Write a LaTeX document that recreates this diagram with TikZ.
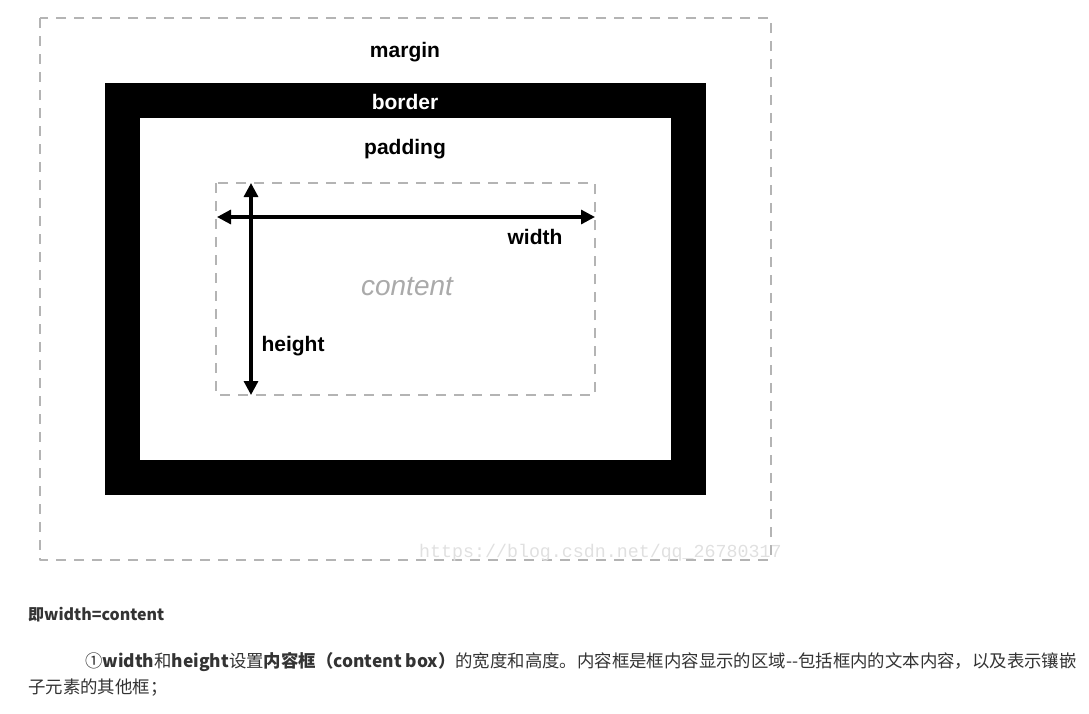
\documentclass[tikz,border=0pt]{standalone}
\usepackage{fontspec}
\setmainfont{Liberation Sans}
\newfontfamily\cjk{Noto Sans CJK SC}
\newfontfamily\wmfont{Liberation Mono}
\usetikzlibrary{arrows.meta}
\definecolor{boxgray}{HTML}{B4B4B4}
\definecolor{txtgray}{HTML}{333333}
\definecolor{contgray}{HTML}{AAAAAA}
\tikzset{
  dashbox/.style={draw=boxgray, line width=1.5pt, dash pattern=on 10pt off 8pt},
  lbl/.style={font=\bfseries\fontsize{21}{24}\selectfont, inner sep=0pt},
  dim/.style={line width=3.2pt, <->},
  para/.style={font=\cjk\fontsize{17.4}{20}\selectfont, text=txtgray, inner sep=0pt, anchor=west}
}
\begin{document}
\begin{tikzpicture}[x=1pt, y=-1pt, line join=round, >={Triangle[length=14pt,width=14pt]}]
\useasboundingbox (0,0) rectangle (1089,713);
% boxes
\draw[dashbox] (40,18) rectangle (771,560);
\fill[black] (105,83) rectangle (706,495);
\fill[white] (140,118) rectangle (671,460);
\draw[dashbox] (216,183) rectangle (595,395);
% labels
\node[lbl] (margin) at (405,52) {margin};
\node[lbl, text=white] (border) at (405,102) {border};
\node[lbl] (padding) at (405,149) {padding};
\node[lbl] (width) at (535,237) {width};
\node[lbl] (height) at (293,346) {height};
\node[inner sep=0pt, text=contgray, font=\itshape\fontsize{28}{32}\selectfont] (content) at (407,287) {content};
% dimensions
\coordinate (wl) at (217,217);
\coordinate (wr) at (595,217);
\coordinate (ht) at (251,183);
\coordinate (hb) at (251,395);
\draw[dim] (wl) -- (wr);
\draw[dim] (ht) -- (hb);
% watermark
\node[inner sep=0pt, anchor=west, text=black!12, font=\wmfont\fontsize{18.3}{22}\selectfont] (mark) at (419,553) {https://blog.csdn.net/qq\_26780317};
% text below
\node[para, font=\cjk\bfseries\fontsize{16}{20}\selectfont] (eq) at (28,615) {即width=content};
\node[para] (line1) at (85,662) {①\textbf{width}和\textbf{height}设置\textbf{内容框（content box）}的宽度和高度。内容框是框内容显示的区域--包括框内的文本内容，以及表示镶嵌};
\node[para] (line2) at (28,688) {子元素的其他框；};
\end{tikzpicture}
\end{document}
